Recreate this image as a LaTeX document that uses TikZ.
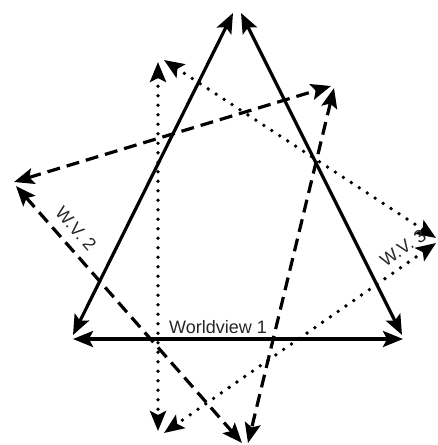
\documentclass[tikz,border=0pt]{standalone}
\usepackage{fontspec}
\setmainfont{Liberation Sans}
\usetikzlibrary{arrows.meta}
\begin{document}
\begin{tikzpicture}[x=1pt,y=-1pt,
  biarrow/.style={line width=3.2pt, {Stealth[length=20pt,width=16pt,inset=4pt]}-{Stealth[length=20pt,width=16pt,inset=4pt]}},
  solidedge/.style={biarrow},
  dashededge/.style={biarrow, dash pattern=on 13pt off 7pt},
  dottededge/.style={biarrow, line width=3.8pt, line cap=round, dash pattern=on 0pt off 9.5pt},
  lbl/.style={font=\fontsize{18}{18}\selectfont, text=black!85, inner sep=1pt}]
\useasboundingbox (0,0) rectangle (437,445);
% solid triangle (Worldview 1)
\coordinate (s1a) at (233,13);  \coordinate (s1b) at (73,335);
\coordinate (s2a) at (241,13);  \coordinate (s2b) at (402,335);
\coordinate (s3a) at (73,339);  \coordinate (s3b) at (403,339);
% dashed triangle (W.V. 2)
\coordinate (d1a) at (14,182);  \coordinate (d1b) at (331,86);
\coordinate (d2a) at (334,88);  \coordinate (d2b) at (248,443);
\coordinate (d3a) at (16,186);  \coordinate (d3b) at (242,443);
% dotted triangle (W.V. 3)
\coordinate (t1a) at (158,62);  \coordinate (t1b) at (158,431);
\coordinate (t2a) at (164,60);  \coordinate (t2b) at (436,238);
\coordinate (t3a) at (436,243); \coordinate (t3b) at (164,433);

\draw[solidedge] (s1a) -- (s1b);
\draw[solidedge] (s2a) -- (s2b);
\draw[solidedge] (s3a) -- (s3b);
\draw[dashededge] (d1a) -- (d1b);
\draw[dashededge] (d2a) -- (d2b);
\draw[dashededge] (d3a) -- (d3b);
\draw[dottededge] (t1a) -- (t1b);
\draw[dottededge] (t2a) -- (t2b);
\draw[dottededge] (t3a) -- (t3b);

\node[lbl, anchor=base] (wv1) at (218,333) {Worldview 1};
\node[lbl, rotate=-48.6] (wv2) at (76,229) {W.V. 2};
\node[lbl, rotate=35] (wv3) at (403,248) {W.V. 3};
\end{tikzpicture}
\end{document}
